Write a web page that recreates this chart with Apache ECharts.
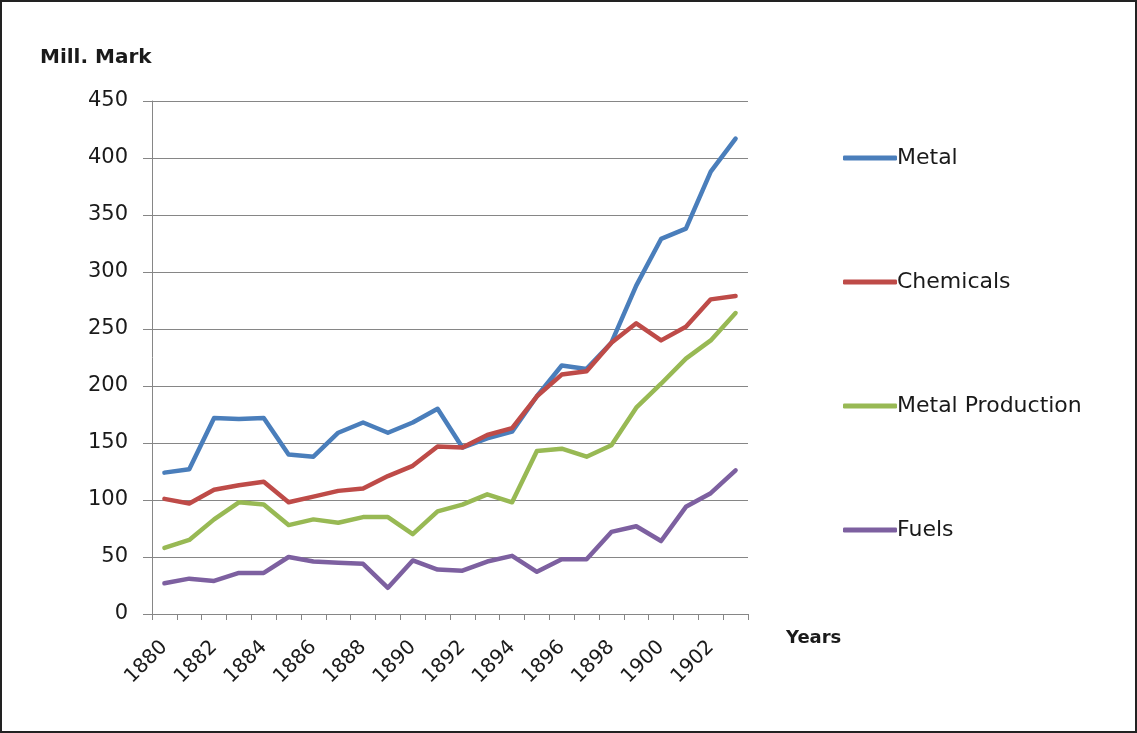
<!DOCTYPE html>
<html>
<head>
<meta charset="utf-8">
<script src="https://cdn.jsdelivr.net/npm/echarts@6/dist/echarts.min.js"></script>
<style>
  html, body { margin: 0; padding: 0; background: #fff; }
  #wrap { width: 1137px; height: 733px; position: relative; }
  #chart { position: absolute; left: 0; top: 0; width: 1137px; height: 733px; }
  #frame { position: absolute; left: 0; top: 0; width: 1137px; height: 733px; box-sizing: border-box; border: 2px solid #222; pointer-events: none; }
</style>
</head>
<body>
<div id="wrap"><div id="chart"></div><div id="frame"></div></div>
<script>
const years = ['1880','1881','1882','1883','1884','1885','1886','1887','1888','1889','1890','1891','1892','1893','1894','1895','1896','1897','1898','1899','1900','1901','1902','1903'];
const metal = [124,127,172,171,172,140,138,159,168,159,168,180,146,154,160,191,218,215,238,288,329,338,388,417];
const chemicals = [101,97,109,113,116,98,103,108,110,121,130,147,146,157,163,191,210,213,238,255,240,252,276,279];
const metalProduction = [58,65,83,98,96,78,83,80,85,85,70,90,96,105,98,143,145,138,148,181,202,224,240,264];
const fuels = [27,31,29,36,36,50,46,45,44,23,47,39,38,46,51,37,48,48,72,77,64,94,106,126];
const seriesNames = ['Metal','Chemicals','Metal Production','Fuels'];
const colors = ['#4A7EBB','#BE4B48','#98B954','#7D60A0'];

const chart = echarts.init(document.getElementById('chart'), null, { renderer: 'canvas' });
const font = 'DejaVu Sans';
const mk = (name, data, color) => ({
  name, type: 'line', data, symbol: 'none', smooth: false,
  lineStyle: { color, width: 4.5, join: 'round', cap: 'round' },
  itemStyle: { color },
  emphasis: { disabled: true }
});
chart.setOption({
  animation: false,
  backgroundColor: '#fff',
  grid: { left: 152, right: 389, top: 101, bottom: 119 },
  xAxis: {
    type: 'category', data: years, boundaryGap: true,
    axisLine: { lineStyle: { color: '#868686', width: 1 } },
    axisTick: { show: true, interval: 0, length: 6, lineStyle: { color: '#868686' } },
    axisLabel: { interval: 1, rotate: 45, margin: 30, color: '#1a1a1a', fontFamily: font, fontSize: 20 },
    splitLine: { show: false }
  },
  yAxis: {
    type: 'value', min: 0, max: 450, interval: 50,
    axisLine: { show: true, lineStyle: { color: '#868686', width: 1 } },
    axisTick: { show: true, length: 9, lineStyle: { color: '#868686' } },
    axisLabel: { margin: 24, color: '#1a1a1a', fontFamily: font, fontSize: 21 },
    splitLine: { show: true, lineStyle: { color: '#868686', width: 1 } }
  },
  legend: {
    orient: 'vertical', left: 838, top: 141,
    itemWidth: 54, itemHeight: 5, itemGap: 100, icon: 'roundRect',
    data: seriesNames,
    textStyle: { fontFamily: font, fontSize: 22, color: '#1a1a1a', lineHeight: 24, padding: [0,0,0,-5] }
  },
  graphic: [
    { type: 'text', left: 40, top: 48, style: { text: 'Mill. Mark', font: 'bold 20px "DejaVu Sans"', fill: '#1a1a1a' } },
    { type: 'text', left: 786, top: 629, style: { text: 'Years', font: 'bold 18px "DejaVu Sans"', fill: '#1a1a1a' } }
  ],
  series: [
    mk(seriesNames[0], metal, colors[0]),
    mk(seriesNames[1], chemicals, colors[1]),
    mk(seriesNames[2], metalProduction, colors[2]),
    mk(seriesNames[3], fuels, colors[3])
  ]
});
</script>
</body>
</html>
